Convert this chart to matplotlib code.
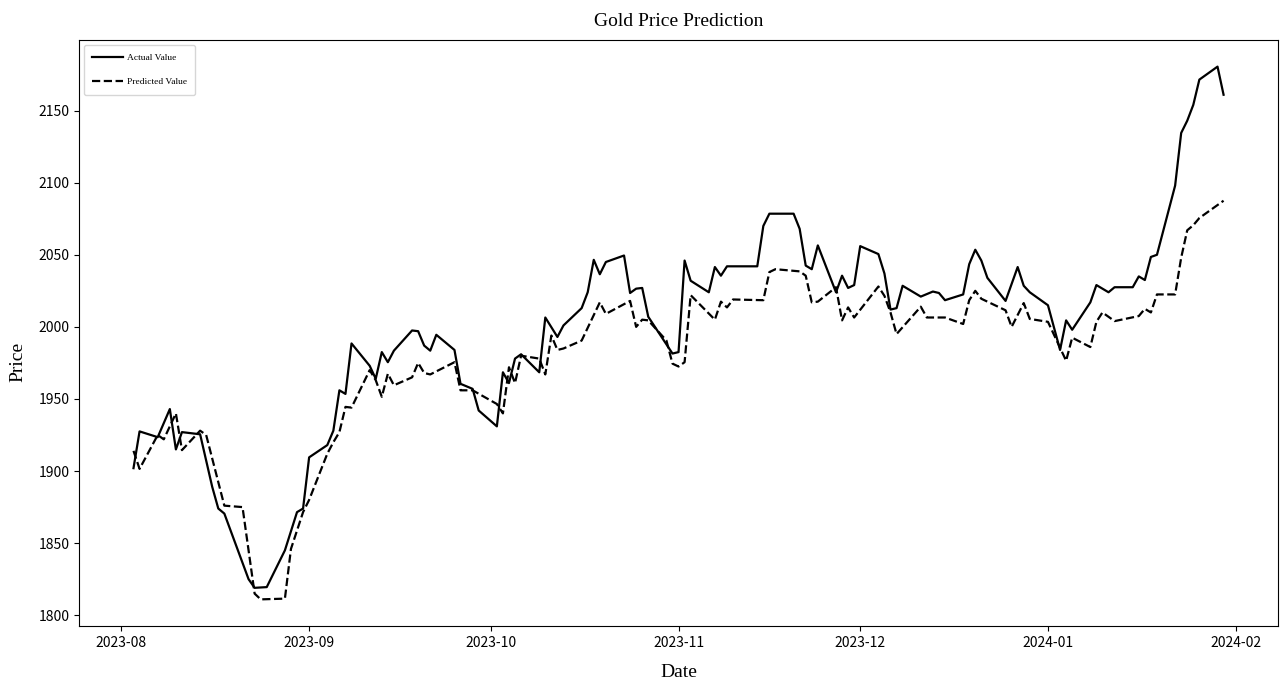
import matplotlib
matplotlib.use("Agg")
import matplotlib.pyplot as plt
import matplotlib.dates as mdates
import pandas as pd

# Daily closing price of gold (USD/oz)
actual_dates = [
    "2023-08-03", "2023-08-04", "2023-08-07", "2023-08-09", "2023-08-10", "2023-08-11",
    "2023-08-14", "2023-08-16", "2023-08-17", "2023-08-18", "2023-08-22", "2023-08-23",
    "2023-08-25", "2023-08-28", "2023-08-30", "2023-08-31", "2023-09-01", "2023-09-04",
    "2023-09-05", "2023-09-06", "2023-09-07", "2023-09-08", "2023-09-11", "2023-09-12",
    "2023-09-13", "2023-09-14", "2023-09-15", "2023-09-18", "2023-09-19", "2023-09-20",
    "2023-09-21", "2023-09-22", "2023-09-25", "2023-09-26", "2023-09-28", "2023-09-29",
    "2023-10-02", "2023-10-03", "2023-10-04", "2023-10-05", "2023-10-06", "2023-10-09",
    "2023-10-10", "2023-10-12", "2023-10-13", "2023-10-16", "2023-10-17", "2023-10-18",
    "2023-10-19", "2023-10-20", "2023-10-23", "2023-10-24", "2023-10-25", "2023-10-26",
    "2023-10-27", "2023-10-31", "2023-11-01", "2023-11-02", "2023-11-03", "2023-11-06",
    "2023-11-07", "2023-11-08", "2023-11-09", "2023-11-14", "2023-11-15", "2023-11-16",
    "2023-11-20", "2023-11-21", "2023-11-22", "2023-11-23", "2023-11-24", "2023-11-27",
    "2023-11-28", "2023-11-29", "2023-11-30", "2023-12-01", "2023-12-04", "2023-12-05",
    "2023-12-06", "2023-12-07", "2023-12-08", "2023-12-11", "2023-12-13", "2023-12-14",
    "2023-12-15", "2023-12-18", "2023-12-19", "2023-12-20", "2023-12-21", "2023-12-22",
    "2023-12-25", "2023-12-27", "2023-12-28", "2023-12-29", "2024-01-01", "2024-01-03",
    "2024-01-04", "2024-01-05", "2024-01-08", "2024-01-09", "2024-01-11", "2024-01-12",
    "2024-01-15", "2024-01-16", "2024-01-17", "2024-01-18", "2024-01-19", "2024-01-22",
    "2024-01-23", "2024-01-24", "2024-01-25", "2024-01-26", "2024-01-29", "2024-01-30",
]
actual_values = [
    1902.0, 1927.5, 1923.5, 1943.0, 1915.0, 1927.0,
    1925.5, 1889.0, 1874.0, 1870.5, 1825.0, 1819.0,
    1819.5, 1845.0, 1871.5, 1874.0, 1909.5, 1918.0,
    1928.0, 1956.0, 1953.5, 1988.5, 1973.0, 1964.0,
    1982.5, 1975.5, 1983.5, 1997.5, 1997.0, 1987.0,
    1983.5, 1994.5, 1984.0, 1960.5, 1957.0, 1942.0,
    1931.0, 1968.5, 1961.0, 1978.0, 1981.0, 1968.5,
    2006.5, 1993.0, 2001.0, 2013.0, 2024.0, 2046.5,
    2036.5, 2045.0, 2049.5, 2023.5, 2026.5, 2027.0,
    2007.0, 1981.5, 1982.5, 2046.0, 2032.0, 2024.0,
    2041.5, 2035.5, 2042.0, 2042.0, 2070.0, 2078.5,
    2078.5, 2068.0, 2042.5, 2040.0, 2056.5, 2024.0,
    2035.5, 2027.0, 2029.0, 2056.0, 2050.5, 2037.0,
    2012.0, 2013.0, 2028.5, 2021.0, 2024.5, 2023.5,
    2018.5, 2022.5, 2043.5, 2053.5, 2046.0, 2034.0,
    2018.0, 2041.5, 2028.5, 2024.0, 2015.0, 1984.0,
    2004.5, 1998.0, 2017.0, 2029.0, 2024.0, 2027.5,
    2027.5, 2035.0, 2032.5, 2048.5, 2050.0, 2098.0,
    2134.5, 2143.0, 2154.0, 2171.5, 2180.5, 2161.0,
]

# Model output for the same period
pred_dates = [
    "2023-08-03", "2023-08-04", "2023-08-07", "2023-08-08", "2023-08-10", "2023-08-11",
    "2023-08-14", "2023-08-15", "2023-08-18", "2023-08-21", "2023-08-23", "2023-08-24",
    "2023-08-28", "2023-08-29", "2023-08-31", "2023-09-01", "2023-09-04", "2023-09-05",
    "2023-09-06", "2023-09-07", "2023-09-08", "2023-09-11", "2023-09-12", "2023-09-13",
    "2023-09-14", "2023-09-15", "2023-09-18", "2023-09-19", "2023-09-20", "2023-09-21",
    "2023-09-25", "2023-09-26", "2023-09-28", "2023-10-02", "2023-10-03", "2023-10-04",
    "2023-10-05", "2023-10-06", "2023-10-09", "2023-10-10", "2023-10-11", "2023-10-12",
    "2023-10-13", "2023-10-16", "2023-10-19", "2023-10-20", "2023-10-24", "2023-10-25",
    "2023-10-26", "2023-10-27", "2023-10-30", "2023-10-31", "2023-11-01", "2023-11-02",
    "2023-11-03", "2023-11-07", "2023-11-08", "2023-11-09", "2023-11-10", "2023-11-15",
    "2023-11-16", "2023-11-17", "2023-11-21", "2023-11-22", "2023-11-23", "2023-11-24",
    "2023-11-27", "2023-11-28", "2023-11-29", "2023-11-30", "2023-12-04", "2023-12-05",
    "2023-12-06", "2023-12-07", "2023-12-11", "2023-12-12", "2023-12-15", "2023-12-18",
    "2023-12-19", "2023-12-20", "2023-12-21", "2023-12-25", "2023-12-26", "2023-12-28",
    "2023-12-29", "2024-01-01", "2024-01-04", "2024-01-05", "2024-01-08", "2024-01-09",
    "2024-01-10", "2024-01-12", "2024-01-16", "2024-01-17", "2024-01-18", "2024-01-19",
    "2024-01-22", "2024-01-23", "2024-01-24", "2024-01-25", "2024-01-26", "2024-01-30",
]
pred_values = [
    1914.0, 1901.5, 1925.0, 1922.0, 1940.0, 1914.5,
    1928.0, 1925.0, 1876.0, 1875.0, 1815.0, 1811.0,
    1811.5, 1846.0, 1871.5, 1880.0, 1912.0, 1920.0,
    1927.0, 1944.5, 1944.0, 1970.0, 1963.0, 1951.5,
    1967.5, 1959.5, 1965.0, 1975.0, 1968.0, 1967.0,
    1975.5, 1956.0, 1956.0, 1946.5, 1940.0, 1972.0,
    1961.0, 1980.0, 1978.0, 1967.0, 1994.0, 1984.0,
    1985.0, 1990.5, 2017.0, 2009.0, 2018.0, 2000.0,
    2005.0, 2004.5, 1990.5, 1974.5, 1972.5, 1975.5,
    2022.0, 2005.0, 2017.5, 2013.5, 2019.0, 2018.5,
    2038.0, 2040.0, 2038.5, 2035.5, 2017.0, 2017.5,
    2027.5, 2004.5, 2013.5, 2006.5, 2028.0, 2021.5,
    2010.0, 1995.0, 2014.0, 2006.5, 2006.5, 2002.0,
    2018.5, 2025.0, 2019.5, 2011.5, 2000.0, 2016.5,
    2005.5, 2003.5, 1976.5, 1992.5, 1986.0, 2003.5,
    2010.0, 2004.0, 2007.5, 2012.5, 2010.0, 2022.5,
    2022.5, 2048.0, 2067.0, 2070.5, 2075.5, 2087.5,
]

SERIF = "Liberation Serif"
TICK_FONT = ["Noto Sans CJK SC", "DejaVu Sans"]

fig = plt.figure(figsize=(12.8, 6.8), dpi=100)
ax = fig.add_axes([79 / 1280, 1 - 626 / 680, 1 - 79 / 1280 - 0.0015, (626 - 40) / 680])

ax.plot(pd.to_datetime(actual_dates), actual_values, color="black", linewidth=1.6,
        linestyle="-", label="Actual Value")
ax.plot(pd.to_datetime(pred_dates), pred_values, color="black", linewidth=1.6,
        linestyle="--", label="Predicted Value")

ax.xaxis.set_major_locator(mdates.MonthLocator())
ax.xaxis.set_major_formatter(mdates.DateFormatter("%Y-%m"))

for lab in ax.get_xticklabels() + ax.get_yticklabels():
    lab.set_fontfamily(TICK_FONT)
    lab.set_fontsize(10)

ax.set_title("Gold Price Prediction", fontfamily=SERIF, fontsize=14, pad=10)
ax.set_xlabel("Date", fontfamily=SERIF, fontsize=14, labelpad=10)
ax.set_ylabel("Price", fontfamily=SERIF, fontsize=14)
ax.yaxis.set_label_coords(-0.044, 0.45)

leg = ax.legend(loc="upper left", prop={"family": SERIF, "size": 6.8},
                labelspacing=1.7, handlelength=3.3, handletextpad=0.35,
                borderpad=0.9, framealpha=0.8)

fig.savefig("out.png", dpi=100)
